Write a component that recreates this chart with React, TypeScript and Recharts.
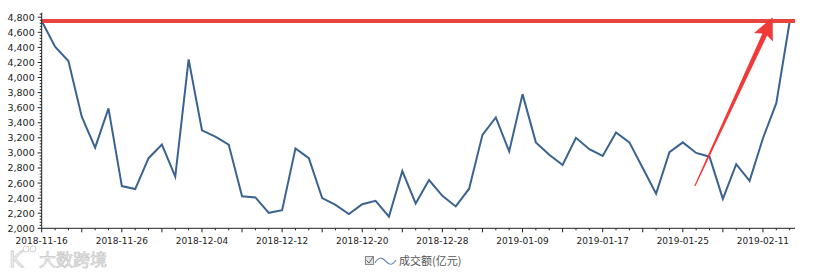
import { LineChart, Line, XAxis, YAxis, ReferenceLine } from 'recharts'

// trading days shown on the chart
const dates = [
  '2018-11-16', '2018-11-19', '2018-11-20', '2018-11-21', '2018-11-22', '2018-11-23',
  '2018-11-26', '2018-11-27', '2018-11-28', '2018-11-29', '2018-11-30',
  '2018-12-03', '2018-12-04', '2018-12-05', '2018-12-06', '2018-12-07',
  '2018-12-10', '2018-12-11', '2018-12-12', '2018-12-13', '2018-12-14',
  '2018-12-17', '2018-12-18', '2018-12-19', '2018-12-20', '2018-12-21',
  '2018-12-24', '2018-12-25', '2018-12-26', '2018-12-27', '2018-12-28',
  '2019-01-02', '2019-01-03', '2019-01-04',
  '2019-01-07', '2019-01-08', '2019-01-09', '2019-01-10', '2019-01-11',
  '2019-01-14', '2019-01-15', '2019-01-16', '2019-01-17', '2019-01-18',
  '2019-01-21', '2019-01-22', '2019-01-23', '2019-01-24', '2019-01-25',
  '2019-01-28', '2019-01-29', '2019-01-30', '2019-01-31', '2019-02-01',
  '2019-02-11', '2019-02-12', '2019-02-13',
]

// 成交额 (亿元)
const turnover = [
  4750, 4410, 4220, 3480, 3070, 3590, 2560, 2520, 2930, 3110, 2685,
  4240, 3300, 3215, 3110, 2425, 2410, 2205, 2240, 3060, 2930,
  2400, 2310, 2190, 2320, 2365, 2155, 2760, 2330, 2640, 2430,
  2290, 2525, 3240, 3470, 3020, 3780, 3140, 2975, 2840, 3200,
  3050, 2960, 3270, 3140, 2800, 2460, 3010, 3140, 3000, 2950,
  2390, 2850, 2630, 3195, 3660, 4740,
]

const yMajorTicks = [2000, 2200, 2400, 2600, 2800, 3000, 3200, 3400, 3600, 3800, 4000, 4200, 4400, 4600, 4800]

// annotations drawn over the chart
const peakLevel = 4750
const arrowTail = { i: 48.9, v: 2560 }
const arrowTip = { i: 54.73, v: 4800 }

const data = dates.map((date, i) => ({ i, date, value: turnover[i] }))
const xTicks = dates.map((_, i) => i)
const yTicks: number[] = []
for (let v = 2000; v <= 4840; v += 40) yTicks.push(v)

const axisColor = '#222'
const labelFont = '"DejaVu Sans", Verdana, sans-serif'

function XTick(props: any) {
  const { x, y, payload } = props
  const k = payload.value
  const major = k % 3 === 0
  return (
    <g>
      <line x1={x} x2={x} y1={y} y2={y + (major ? 4 : 2)} stroke={axisColor} />
      {k % 6 === 0 && (
        <text x={x} y={y + 16} textAnchor="middle" fontSize={9} fontFamily={labelFont} fill="#222">
          {dates[k]}
        </text>
      )}
    </g>
  )
}

function YTick(props: any) {
  const { x, y, payload } = props
  const v = payload.value
  const major = yMajorTicks.includes(v)
  return (
    <g>
      <line x1={x - (major ? 4 : 2)} x2={x} y1={y} y2={y} stroke={axisColor} />
      {major && (
        <text x={x - 7} y={y + 3.5} textAnchor="end" fontSize={9.5} fontFamily={labelFont} fill="#222">
          {v.toLocaleString('en-US')}
        </text>
      )}
    </g>
  )
}

// tapered red arrow between the two segment points
function Arrow(props: any) {
  const { x1, y1, x2, y2 } = props
  const dx = x2 - x1
  const dy = y2 - y1
  const len = Math.hypot(dx, dy)
  const ux = dx / len
  const uy = dy / len
  const nx = -uy
  const ny = ux
  const head = 22
  const bx = x2 - ux * head
  const by = y2 - uy * head
  const p = (px: number, py: number, w: number) => `${px + nx * w},${py + ny * w}`
  const pts = [
    p(x1, y1, 0.6),
    p(bx + ux * 3, by + uy * 3, 2.6),
    p(bx, by, 10.3),
    `${x2},${y2}`,
    p(bx, by, -10.3),
    p(bx + ux * 3, by + uy * 3, -2.6),
    p(x1, y1, -0.6),
  ].join(' ')
  return <polygon points={pts} fill="#f03a3a" />
}

export default function App() {
  return (
    <div style={{ position: 'relative', width: 816, height: 273, background: '#fff' }}>
      <style>{'body{margin:0}'}</style>
      <LineChart width={816} height={273} data={data} margin={{ top: 12.7, right: 21, bottom: 24.7, left: 0 }}>
        <XAxis
          dataKey="i"
          type="number"
          domain={[0, 56.4]}
          ticks={xTicks}
          interval={0}
          height={20}
          tickSize={0}
          tickMargin={0}
          tick={<XTick />}
          axisLine={{ stroke: axisColor }}
        />
        <YAxis
          type="number"
          domain={[2000, 4860]}
          ticks={yTicks}
          interval={0}
          width={41.7}
          tickSize={0}
          tickMargin={0}
          tick={<YTick />}
          axisLine={{ stroke: axisColor }}
        />
        <Line
          type="linear"
          dataKey="value"
          name="成交额(亿元)"
          stroke="#3b6390"
          strokeWidth={2}
          dot={false}
          isAnimationActive={false}
        />
        <ReferenceLine y={peakLevel} stroke="#e8443f" strokeWidth={4} />
        <ReferenceLine
          segment={[{ x: arrowTail.i, y: arrowTail.v }, { x: arrowTip.i, y: arrowTip.v }]}
          shape={Arrow}
          ifOverflow="visible"
        />
      </LineChart>
      <svg width={816} height={273} style={{ position: 'absolute', left: 0, top: 0, pointerEvents: 'none' }}>
        {/* legend */}
        <rect x={365.5} y={256.5} width={8} height={8} fill="#e2e2e2" stroke="#8a8a8a" />
        <path d="M366.5,260.5 L369,263 L373,257" fill="none" stroke="#666" strokeWidth={1} />
        <path d="M375,263 C378,257 382,257 385.5,261 S392,266 396,260" fill="none" stroke="#6e8db3" strokeWidth={1.2} />
        <text x={399} y={265} fontSize={11} fontFamily='"Noto Sans CJK SC", sans-serif' fill="#555">
          成交额(亿元)
        </text>
        {/* watermark */}
        <text x={9} y={267} fontSize={22} fontFamily='"DejaVu Sans", sans-serif' fill="#f4f4f4" stroke="#cfcfcf" strokeWidth={0.8}>
          K
        </text>
        <circle cx={26} cy={249} r={3} fill="none" stroke="#cfcfcf" />
        <circle cx={33} cy={249} r={3} fill="none" stroke="#cfcfcf" />
        <text x={39} y={266} fontSize={17} fontFamily='"Noto Sans CJK SC", sans-serif' fill="#f4f4f4" stroke="#c8c8c8" strokeWidth={0.7}>
          大数跨境
        </text>
      </svg>
    </div>
  )
}
